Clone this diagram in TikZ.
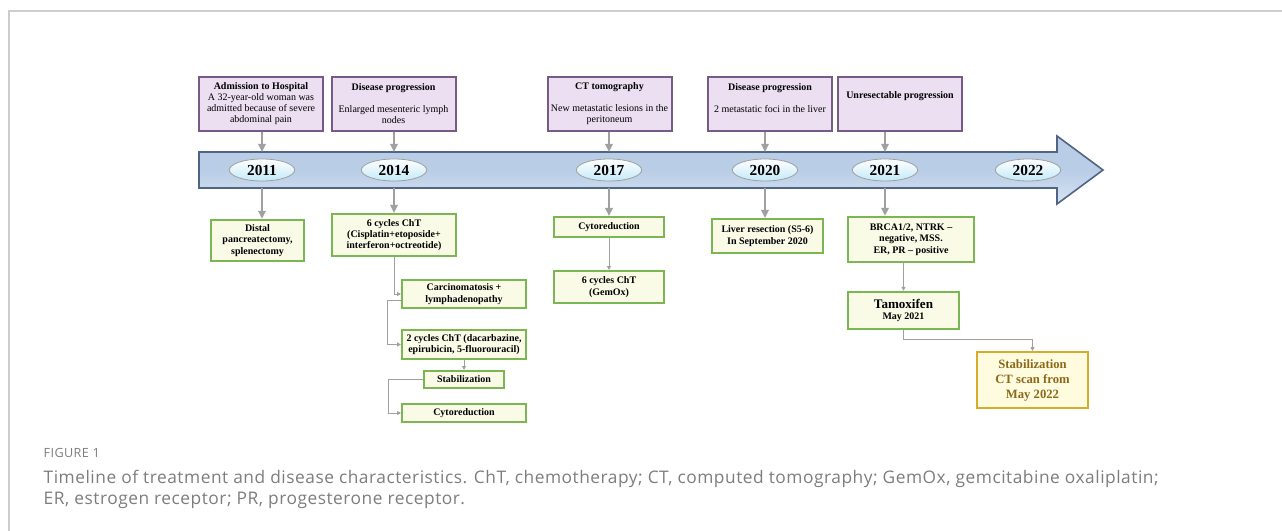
\documentclass[tikz,border=0pt]{standalone}
\usepackage{fontspec}
\setmainfont{Liberation Serif}
\newfontfamily\capfont[LetterSpace=3]{Open Sans}
\usetikzlibrary{shapes.geometric,arrows.meta,positioning,calc}
\definecolor{evtfill}{RGB}{235,223,241}
\definecolor{evtdraw}{RGB}{120,90,135}
\definecolor{trtfill}{RGB}{250,251,230}
\definecolor{trtdraw}{RGB}{122,182,82}
\definecolor{goldfill}{RGB}{254,251,222}
\definecolor{golddraw}{RGB}{215,172,45}
\definecolor{goldtext}{RGB}{140,105,25}
\definecolor{barfill}{RGB}{185,205,230}
\definecolor{bardraw}{RGB}{80,100,132}
\definecolor{conn}{RGB}{160,160,160}
\definecolor{capgray}{RGB}{125,125,125}
\definecolor{framegray}{RGB}{205,205,205}

\begin{document}
\begin{tikzpicture}[
  x=0.75pt, y=-0.75pt,
  evt/.style    = {draw=evtdraw, fill=evtfill, line width=1.5pt,
                   minimum width=93pt, minimum height=40.5pt,
                   inner sep=1pt, align=center, font=\fontsize{7.5}{8.25}\selectfont},
  trt/.style    = {draw=trtdraw, fill=trtfill, line width=1.5pt,
                   inner sep=1pt, align=center, font=\bfseries\fontsize{7.5}{8.5}\selectfont},
  gold/.style   = {trt, draw=golddraw, fill=goldfill, text=goldtext,
                   font=\bfseries\fontsize{9.5}{11.25}\selectfont},
  yr/.style     = {ellipse, draw=gray!75, line width=0.6pt,
                   top color=white, bottom color={rgb,255:red,195;green,233;blue,248},
                   minimum width=49pt, minimum height=16.5pt, inner sep=0pt,
                   font=\bfseries\fontsize{11.5}{11.5}\selectfont},
  arr/.style    = {-{Triangle[length=6pt,width=5.5pt]}, line width=1.5pt, draw=conn},
  tarr/.style   = {-{Triangle[length=3pt,width=3pt]}, line width=0.7pt, draw=conn},
  captext/.style = {anchor=west, text=capgray, align=left},
]
\useasboundingbox (0,0) rectangle (1282,531);
\draw[framegray, line width=0.8pt] (9,531) -- (9,11) -- (1282,11);

% time axis
\draw[bardraw, line width=1.2pt, top color=barfill, bottom color=barfill!55!white,
      middle color=barfill]
  (199,152) -- (1057,152) -- (1057,136) -- (1103,170) -- (1057,204)
  -- (1057,188) -- (199,188) -- cycle;
\coordinate (bartop) at (0,152);
\coordinate (barbot) at (0,188);

\node[yr] (y2011) at (262,170)  {2011};
\node[yr] (y2014) at (394,170)  {2014};
\node[yr] (y2017) at (609,170)  {2017};
\node[yr] (y2020) at (765,170)  {2020};
\node[yr] (y2021) at (885,170)  {2021};
\node[yr] (y2022) at (1028,170) {2022};

% events above the axis
\node[evt] (e2011) at (261,104)
     {\textbf{Admission to Hospital}\\ A 32-year-old woman was\\
      admitted because of severe\\ abdominal pain};
\node[evt] (e2014) at (393.5,104)
     {\textbf{Disease progression}\\ ~\\ Enlarged mesenteric lymph\\ nodes};
\node[evt] (e2017) at (609.5,104)
     {\textbf{CT tomography}\\ ~\\ New metastatic lesions in the\\ peritoneum};
\node[evt] (e2020) at (770,104)
     {\textbf{Disease progression}\\ ~\\ 2 metastatic foci in the liver\\ ~};
\node[evt] (e2021) at (900,104)
     {~\\ \textbf{Unresectable progression}\\ ~\\ ~};

% treatment below the axis
\node[trt, minimum width=70pt, minimum height=31pt] (dist) at (257.5,240.5)
     {Distal\\ pancreatectomy,\\ splenectomy};
\node[trt, minimum width=93pt, minimum height=31.5pt] (chem6) at (394,235)
     {6 cycles ChT\\ (Cisplatin+etoposide+\\ interferon+octreotide)};
\node[trt, minimum width=93pt, minimum height=21pt] (carc) at (464,294)
     {Carcinomatosis +\\ lymphadenopathy};
\node[trt, minimum width=93pt, minimum height=21.75pt] (cyc2) at (464,344.5)
     {2 cycles ChT (dacarbazine,\\ epirubicin, 5-fluorouracil)};
\node[trt, minimum width=60pt, minimum height=12.75pt] (stab) at (464,379.5)
     {Stabilization};
\node[trt, minimum width=93pt, minimum height=13.5pt] (cyto) at (464,413)
     {Cytoreduction};
\node[trt, minimum width=82.5pt, minimum height=15pt] (cyt17) at (609,227)
     {Cytoreduction};
\node[trt, minimum width=83pt, minimum height=24pt, below=24pt of cyt17] (gemox)
     {6 cycles ChT\\ (GemOx)};
\node[trt, minimum width=83pt, minimum height=25.5pt] (liver) at (767.5,236)
     {Liver resection (S5-6)\\ In September 2020};
\node[trt, minimum width=94.5pt, minimum height=34pt] (brca) at (911,239.5)
     {BRCA1/2, NTRK --\\ negative, MSS.\\ ER, PR -- positive};
\node[trt, minimum width=83pt, minimum height=28pt] (tamo) at (903.5,310.5)
     {{\fontsize{9.8}{11}\selectfont Tamoxifen}\\ May 2021};
\node[gold, minimum width=83pt, minimum height=42pt] (stab22) at (1032.5,380)
     {Stabilization\\ CT scan from\\ May 2022};

% connectors
\foreach \yr in {2011,2014,2017,2020,2021}
  \draw[arr] (y\yr |- e\yr.south) -- (y\yr |- bartop);
\foreach \yr/\tgt in {2011/dist,2014/chem6,2017/cyt17,2020/liver,2021/brca}
  \draw[arr] (y\yr |- barbot) -- (y\yr |- \tgt.north);
\draw[tarr] (chem6.south) |- (carc.west);
\draw[tarr] ([yshift=-5pt]carc.west) -- ++(-10pt,0) |- (cyc2.west);
\draw[tarr] (cyc2.south) -- (stab.north);
\draw[tarr] (stab.west) -- ++(-26pt,0) |- (cyto.west);
\draw[tarr] (cyt17) -- (gemox);
\draw[tarr] (tamo |- brca.south) -- (tamo.north);
\draw[tarr] (tamo.south) -- ++(0,-7pt) -| (stab22.north);

% caption
\node[captext, font=\capfont\fontsize{9.5}{11}\selectfont] (figlab) at (39,453) {FIGURE 1};
\node[captext, anchor=north west, font=\capfont\fontsize{13}{15.75}\selectfont] (captxt)
     at (39,466)
     {Timeline of treatment and disease characteristics. ChT, chemotherapy; CT, computed tomography; GemOx, gemcitabine oxaliplatin;\\
      ER, estrogen receptor; PR, progesterone receptor.};
\end{tikzpicture}
\end{document}
